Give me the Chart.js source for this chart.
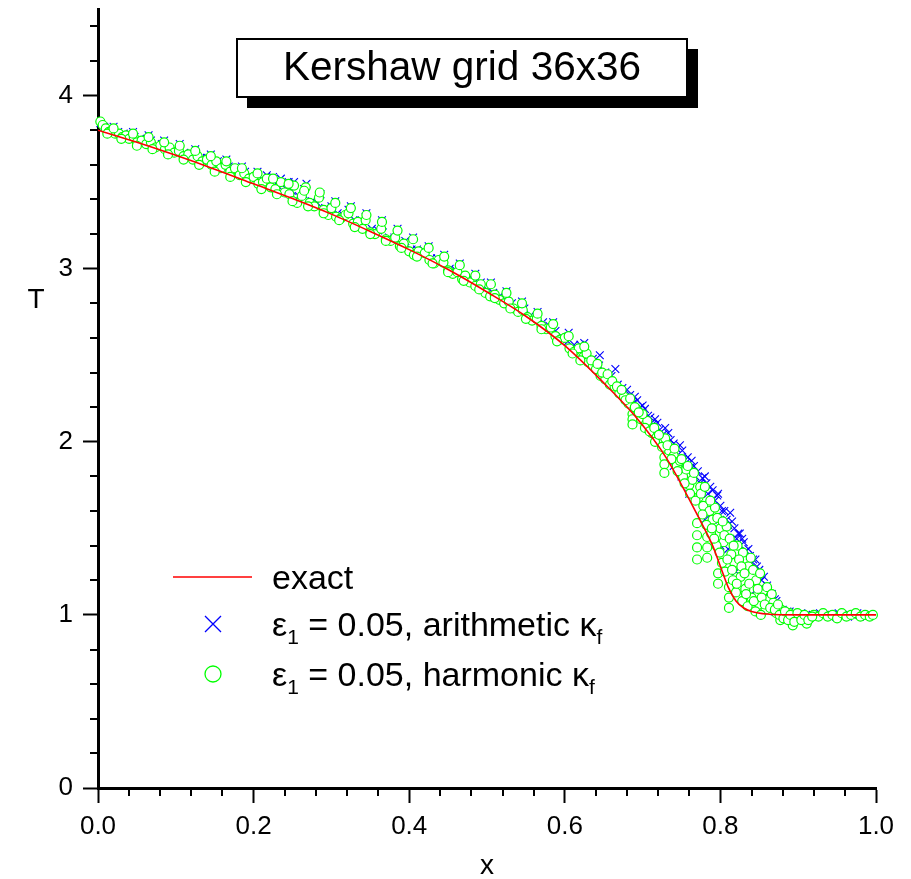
<!DOCTYPE html>
<html><head><meta charset="utf-8">
<script src="https://cdn.jsdelivr.net/npm/chart.js@4.4.1/dist/chart.umd.min.js"></script>
<style>html,body{margin:0;padding:0;background:#fff;} canvas{display:block;}</style>
</head><body>
<canvas id="c" width="911" height="879"></canvas>
<script>
// ---------------- data ----------------
const chartTitle = "Kershaw grid 36x36";
const xAxisTitle = "x";
const yAxisTitle = "T";
const xTickValues = [0, 0.2, 0.4, 0.6, 0.8, 1.0];
const xTickLabels = ["0.0", "0.2", "0.4", "0.6", "0.8", "1.0"];
const yTickValues = [0, 1, 2, 3, 4];
const yTickLabels = ["0", "1", "2", "3", "4"];

const exactX = [0, 0.05, 0.1, 0.15, 0.2, 0.25, 0.3, 0.35, 0.4, 0.45, 0.5, 0.55, 0.6, 0.65, 0.69, 0.73, 0.77, 0.79, 0.80, 0.81, 0.82, 0.83, 0.84, 0.86, 0.9, 0.95, 1.0];
const exactT = [3.80, 3.73, 3.655, 3.575, 3.49, 3.405, 3.315, 3.215, 3.11, 2.995, 2.865, 2.725, 2.555, 2.34, 2.15, 1.91, 1.58, 1.40, 1.28, 1.16, 1.08, 1.04, 1.02, 1.005, 1.0, 1.0, 1.0];

// arithmetic face conductivity (blue crosses)
const arithX = [0.003,0.008,0.013,0.020,0.026,0.033,0.040,0.047,0.054,0.060,0.068,0.075,0.082,0.090,0.097,0.104,0.111,0.118,0.126,0.133,
  0.140,0.147,0.154,0.161,0.168,0.175,0.182,0.189,0.196,0.203,0.210,0.217,0.224,0.231,0.235,0.242,0.249,0.252,0.258,0.264,
  0.268,0.275,0.282,0.286,0.292,0.300,0.308,0.315,0.322,0.330,0.337,0.344,0.352,0.360,0.366,0.374,0.381,0.388,0.395,0.403,
  0.410,0.420,0.428,0.436,0.444,0.452,0.460,0.468,0.476,0.484,0.492,0.500,0.508,0.516,0.524,0.532,0.540,0.548,0.556,0.564,
  0.572,0.580,0.588,0.596,0.604,0.612,0.620,0.628,0.636,0.644,0.652,0.660,0.668,0.674,0.680,0.687,0.693,0.700,0.707,0.713,
  0.719,0.726,0.733,0.740,0.748,0.752,0.756,0.763,0.768,0.774,0.780,0.784,0.790,0.796,0.797,0.802,0.808,0.8126,0.818,0.823,
  0.825,0.830,0.836,0.842,0.845,0.850,0.856,0.860,0.866,0.870,0.874,0.880,0.886,0.892,0.898,0.904,0.910,0.916,0.922,0.928,
  0.934,0.940,0.946,0.952,0.958,0.964,0.970,0.976,0.982,0.988,0.994,0.740,0.760,0.780,0.800,0.820,0.840,0.860,
  0.684,0.690,0.697,0.703,0.710,0.716,0.722,0.729,0.736,0.744,0.751,0.758,0.761,0.766,0.771,0.777,0.782,0.787,0.793,0.800,
  0.805,0.810,0.815,0.821,0.828,0.833,0.838,0.840,0.847,0.853,0.858,0.863,0.868,0.872,0.877,0.883,0.889,
  0.750,0.770,0.790,0.810,0.830,0.850,0.870,
  0.020,0.045,0.065,0.085,0.105,0.125,0.145,0.165,0.185,0.205,0.225,0.245,0.265,0.305,0.325,0.345,0.365,0.385,0.405,0.425,
  0.445,0.465,0.485,0.505,0.525,0.545,0.565,0.585,0.605,0.625,0.645,0.665];
const arithT = [3.84,3.82,3.80,3.80,3.79,3.78,3.77,3.76,3.75,3.74,3.74,3.72,3.72,3.70,3.69,3.69,3.67,3.66,3.66,3.64,
  3.64,3.62,3.62,3.60,3.59,3.58,3.56,3.56,3.54,3.53,3.52,3.54,3.49,3.48,3.52,3.46,3.45,3.50,3.42,3.43,
  3.49,3.39,3.38,3.43,3.35,3.36,3.32,3.31,3.34,3.28,3.28,3.30,3.23,3.22,3.25,3.18,3.18,3.15,3.16,3.11,
  3.11,3.10,3.06,3.06,3.05,3.00,2.99,2.96,2.94,2.92,2.92,2.88,2.86,2.84,2.82,2.80,2.77,2.77,2.73,2.72,
  2.69,2.67,2.64,2.61,2.58,2.56,2.56,2.50,2.48,2.44,2.40,2.38,2.33,2.31,2.30,2.22,2.24,2.21,2.15,2.10,
  2.11,2.04,2.05,1.99,1.98,1.90,1.88,1.89,1.80,1.76,1.80,1.70,1.72,1.69,1.70,1.60,1.55,1.59,1.50,1.47,
  1.47,1.42,1.38,1.32,1.32,1.26,1.22,1.17,1.12,1.09,1.04,1.03,1.02,1.01,1.00,1.01,1.00,0.99,1.00,1.01,
  1.00,0.99,1.00,1.01,1.00,0.99,1.00,1.01,1.00,0.99,1.00,1.86,1.70,1.55,1.40,1.25,1.12,1.05,
  2.27,2.26,2.20,2.19,2.14,2.13,2.07,2.08,2.01,1.96,1.95,1.91,1.85,1.86,1.83,1.79,1.76,1.74,1.66,1.63,
  1.60,1.52,1.54,1.44,1.44,1.37,1.34,1.30,1.28,1.20,1.14,1.10,1.06,1.08,1.02,1.01,1.02,
  1.80,1.68,1.55,1.38,1.25,1.15,1.02,
  3.82,3.79,3.77,3.74,3.72,3.69,3.66,3.63,3.59,3.56,3.53,3.50,3.46,3.39,3.36,3.32,3.28,3.23,3.18,3.13,
  3.08,3.03,2.97,2.92,2.87,2.81,2.75,2.69,2.63,2.57,2.50,2.42];

// harmonic face conductivity (green circles)
const harmX = [0.003,0.006,0.010,0.014,0.018,0.022,0.027,0.031,0.036,0.040,0.046,0.050,0.056,0.062,0.068,0.074,0.080,0.086,0.092,0.098,
  0.104,0.110,0.116,0.122,0.128,0.134,0.140,0.146,0.152,0.158,0.164,0.170,0.176,0.182,0.188,0.194,0.200,0.206,0.212,0.217,
  0.222,0.228,0.235,0.240,0.246,0.252,0.256,0.262,0.267,0.272,0.278,0.284,0.290,0.296,0.300,0.306,0.312,0.318,0.322,0.328,
  0.334,0.340,0.344,0.350,0.356,0.364,0.370,0.376,0.382,0.388,0.393,0.400,0.406,0.412,0.420,0.426,0.432,0.438,0.444,0.450,
  0.456,0.462,0.468,0.472,0.478,0.485,0.492,0.498,0.504,0.510,0.516,0.522,0.528,0.534,0.540,0.546,0.552,0.558,0.564,0.570,
  0.576,0.582,0.588,0.594,0.600,0.606,0.612,0.618,0.624,0.630,0.636,0.640,0.646,0.652,0.658,0.664,0.670,0.676,0.682,0.687,
  0.687,0.687,0.692,0.698,0.704,0.706,0.712,0.718,0.722,0.728,0.728,0.728,0.729,0.734,0.740,0.744,0.748,0.752,0.756,0.760,
  0.764,0.770,0.770,0.770,0.770,0.772,0.774,0.778,0.783,0.783,0.783,0.786,0.790,0.793,0.797,0.797,0.800,0.804,0.808,0.811,
  0.811,0.811,0.814,0.818,0.822,0.826,0.829,0.832,0.836,0.840,0.842,0.846,0.850,0.855,0.858,0.862,0.868,0.872,0.878,0.884,
  0.889,0.893,0.897,0.902,0.906,0.911,0.915,0.920,0.926,0.932,0.938,0.944,0.950,0.956,0.962,0.968,0.974,0.980,0.986,0.992,
  0.996,0.788,0.795,0.802,0.806,0.816,0.820,0.828,0.835,0.845,0.852,0.877,
  0.700,0.703,0.709,0.715,0.716,0.721,0.725,0.732,0.737,0.741,0.745,0.750,0.754,0.758,0.761,0.766,0.768,0.775,0.777,0.780,
  0.782,0.787,0.789,0.792,0.796,0.799,0.803,0.805,0.809,0.812,0.815,0.817,0.821,0.824,0.827,0.831,0.833,0.837,0.839,0.843,
  0.848,0.851,0.853,0.857,0.860,0.864,0.866,0.870,0.874,0.876,0.881,0.883,0.887,0.890,0.895,0.899,0.904,0.908,0.913,0.918,
  0.628,0.634,0.642,0.648,0.655,0.661,0.667,0.673,0.678,0.684,0.690,0.695,
  0.012,0.030,0.050,0.070,0.090,0.110,0.130,0.150,0.170,0.190,0.210,0.230,0.250,0.270,0.290,0.310,0.330,0.350,0.370,0.390,
  0.410,0.430,0.450,0.470,0.490,0.510,0.530,0.550,0.570,0.590,0.610,0.620,
  0.020,0.045,0.065,0.085,0.105,0.125,0.145,0.165,0.185,0.205,0.225,0.245,0.265,0.285,0.305,0.325,0.345,0.365,0.385,0.405,
  0.425,0.445,0.465,0.485,0.505,0.525,0.545,0.565,0.585,0.605,0.625];
const harmT = [3.85,3.83,3.81,3.79,3.80,3.78,3.78,3.76,3.77,3.75,3.76,3.73,3.74,3.72,3.73,3.70,3.71,3.69,3.70,3.67,
  3.68,3.65,3.66,3.63,3.65,3.62,3.63,3.60,3.62,3.58,3.60,3.56,3.58,3.54,3.55,3.52,3.53,3.49,3.50,3.52,
  3.47,3.46,3.50,3.44,3.43,3.48,3.38,3.42,3.47,3.38,3.36,3.41,3.34,3.31,3.35,3.30,3.29,3.31,3.32,3.26,
  3.27,3.23,3.28,3.21,3.20,3.23,3.17,3.16,3.18,3.13,3.145,3.10,3.08,3.10,3.09,3.05,3.03,3.05,3.035,2.99,
  2.97,2.98,2.94,2.96,2.92,2.90,2.91,2.86,2.84,2.85,2.82,2.80,2.81,2.77,2.75,2.76,2.72,2.70,2.71,2.67,
  2.65,2.66,2.61,2.59,2.60,2.54,2.52,2.54,2.49,2.46,2.44,2.42,2.38,2.36,2.33,2.32,2.28,2.26,2.22,2.16,
  2.13,2.10,2.19,2.13,2.10,2.12,2.05,2.03,2.00,1.91,1.87,1.82,2.02,1.95,1.92,1.86,1.89,1.80,1.84,1.75,
  1.78,1.53,1.46,1.39,1.32,1.68,1.74,1.63,1.45,1.39,1.33,1.60,1.55,1.62,1.24,1.18,1.50,1.42,1.51,1.16,
  1.10,1.04,1.35,1.30,1.40,1.22,1.36,1.15,1.28,1.10,1.26,1.20,1.06,1.14,1.03,1.09,1.07,1.01,1.03,0.99,
  1.01,0.94,0.98,1.00,0.99,0.95,0.98,1.00,0.99,1.01,0.99,1.00,0.98,1.01,0.99,1.00,1.01,0.99,1.00,0.99,
  1.00,1.47,1.40,1.30,1.25,1.20,1.13,1.08,1.05,1.02,1.00,0.97,
  2.16,2.08,2.06,2.08,2.00,2.04,1.97,1.98,1.90,1.96,1.83,1.90,1.76,1.86,1.70,1.82,1.66,1.70,1.58,1.74,
  1.52,1.66,1.50,1.44,1.56,1.36,1.54,1.46,1.32,1.44,1.26,1.40,1.18,1.32,1.28,1.24,1.12,1.18,1.33,1.08,
  1.15,1.24,1.10,1.06,1.16,1.04,1.12,1.03,1.06,1.00,0.98,1.02,0.97,1.00,0.96,1.01,0.97,1.00,0.97,0.99,
  2.51,2.47,2.45,2.40,2.39,2.35,2.32,2.30,2.24,2.25,2.20,2.17,
  3.78,3.75,3.71,3.69,3.66,3.63,3.60,3.56,3.53,3.50,3.46,3.43,3.39,3.36,3.32,3.28,3.24,3.20,3.16,3.12,
  3.07,3.03,2.98,2.93,2.88,2.83,2.77,2.71,2.65,2.58,2.51,2.47,
  3.81,3.78,3.76,3.73,3.71,3.68,3.65,3.62,3.58,3.55,3.52,3.49,3.45,3.44,3.38,3.35,3.31,3.27,3.22,3.17,
  3.12,3.07,3.02,2.96,2.91,2.86,2.80,2.74,2.68,2.61,2.55];

const legendRows = [
  [{t: "exact"}],
  [{t: "\u03B5"}, {t: "1", sub: true}, {t: " = 0.05, arithmetic \u03BA"}, {t: "f", sub: true}],
  [{t: "\u03B5"}, {t: "1", sub: true}, {t: " = 0.05, harmonic \u03BA"}, {t: "f", sub: true}]
];

// ---------------- drawing ----------------
const FONT = '"Liberation Sans", Arial, Helvetica, sans-serif';
const RED = '#ff0000', BLUE = '#0000ff', GREEN = '#00ff00';

const overlay = {
  id: 'overlay',
  afterDraw(chart) {
    const ctx = chart.ctx;
    const xs = chart.scales.x, ys = chart.scales.y;
    const ca = chart.chartArea;
    ctx.save();
    // minor ticks
    ctx.strokeStyle = '#000';
    ctx.lineWidth = 2;
    ctx.beginPath();
    for (let i = 1; i < 25; i++) {
      if (i % 5 === 0) continue;
      const px = Math.round(xs.getPixelForValue(i * 0.04));
      ctx.moveTo(px, ca.bottom);
      ctx.lineTo(px, ca.bottom + 8);
    }
    for (let i = 1; i < 23; i++) {
      if (i % 5 === 0) continue;
      const py = Math.round(ys.getPixelForValue(i * 0.2));
      ctx.moveTo(ca.left, py);
      ctx.lineTo(ca.left - 8, py);
    }
    ctx.stroke();

    // axis titles
    ctx.fillStyle = '#000';
    ctx.font = '28px ' + FONT;
    ctx.textAlign = 'center';
    ctx.textBaseline = 'middle';
    ctx.fillText(yAxisTitle, 36, 300);
    ctx.fillText(xAxisTitle, (ca.left + ca.right) / 2, 866);

    // title box with shadow
    ctx.fillStyle = '#000';
    ctx.fillRect(247, 49, 451, 59);
    ctx.fillStyle = '#fff';
    ctx.fillRect(237, 39, 450, 58);
    ctx.strokeStyle = '#000';
    ctx.lineWidth = 2;
    ctx.strokeRect(237, 39, 450, 58);
    ctx.fillStyle = '#000';
    ctx.font = '40.5px ' + FONT;
    ctx.textAlign = 'center';
    ctx.textBaseline = 'middle';
    ctx.fillText(chartTitle, 462, 69);

    // legend
    const rowY = [577, 624, 674];
    ctx.strokeStyle = RED; ctx.lineWidth = 1.5;
    ctx.beginPath(); ctx.moveTo(173, rowY[0]); ctx.lineTo(252, rowY[0]); ctx.stroke();
    ctx.strokeStyle = BLUE; ctx.lineWidth = 1.3;
    ctx.beginPath();
    ctx.moveTo(205, rowY[1] - 8); ctx.lineTo(221, rowY[1] + 8);
    ctx.moveTo(221, rowY[1] - 8); ctx.lineTo(205, rowY[1] + 8);
    ctx.stroke();
    ctx.strokeStyle = GREEN; ctx.lineWidth = 1.3;
    ctx.beginPath(); ctx.arc(213, rowY[2], 8, 0, Math.PI * 2); ctx.stroke();
    ctx.fillStyle = '#000';
    ctx.textAlign = 'left';
    ctx.textBaseline = 'alphabetic';
    legendRows.forEach((parts, r) => {
      let x = 272;
      const base = rowY[r] + 12;
      parts.forEach(p => {
        ctx.font = (p.sub ? '21px ' : '34px ') + FONT;
        ctx.fillText(p.t, x, p.sub ? base + 8 : base);
        x += ctx.measureText(p.t).width;
      });
    });
    ctx.restore();
  }
};

const pts = (X, Y) => X.map((x, i) => ({x: x, y: Y[i]}));

new Chart(document.getElementById('c'), {
  type: 'scatter',
  data: {
    datasets: [
      {
        label: 'exact', data: pts(exactX, exactT), showLine: true,
        borderColor: RED, backgroundColor: RED, borderWidth: 1.6,
        pointRadius: 0, cubicInterpolationMode: 'monotone', order: 0
      },
      {
        label: 'harmonic', data: pts(harmX, harmT),
        pointStyle: 'circle', pointRadius: 4.5, borderColor: GREEN, backgroundColor: '#ffffff',
        borderWidth: 1.2, order: 1, clip: 8
      },
      {
        label: 'arithmetic', data: pts(arithX, arithT),
        pointStyle: 'crossRot', pointRadius: 5.5, borderColor: BLUE, backgroundColor: BLUE,
        borderWidth: 1.1, order: 2, clip: 8
      }
    ]
  },
  options: {
    responsive: false,
    animation: false,
    devicePixelRatio: 1,
    layout: {padding: {top: 9, right: 35, left: 0, bottom: 0}},
    plugins: {legend: {display: false}, tooltip: {enabled: false}},
    scales: {
      x: {
        type: 'linear', min: 0, max: 1,
        afterBuildTicks: s => { s.ticks = xTickValues.map(v => ({value: v})); },
        afterFit: s => { s.height = 91; s.paddingLeft = 0; s.paddingRight = 0; },
        ticks: {
          autoSkip: false, maxRotation: 0, padding: 8, color: '#000',
          font: {family: FONT, size: 26},
          callback: (v, i) => xTickLabels[i]
        },
        grid: {display: true, drawOnChartArea: false, drawTicks: true, tickLength: 15, tickWidth: 2, tickColor: '#000', color: '#000'},
        border: {display: true, color: '#000', width: 3}
      },
      y: {
        type: 'linear', min: 0, max: 4.5,
        afterBuildTicks: s => { s.ticks = yTickValues.map(v => ({value: v})); },
        afterFit: s => { s.width = 98; s.paddingTop = 0; s.paddingBottom = 0; },
        ticks: {
          autoSkip: false, padding: 10, color: '#000',
          font: {family: FONT, size: 26},
          callback: (v, i) => yTickLabels[i]
        },
        grid: {display: true, drawOnChartArea: false, drawTicks: true, tickLength: 15, tickWidth: 2, tickColor: '#000', color: '#000'},
        border: {display: true, color: '#000', width: 3}
      }
    }
  },
  plugins: [overlay]
});
</script>
</body></html>
